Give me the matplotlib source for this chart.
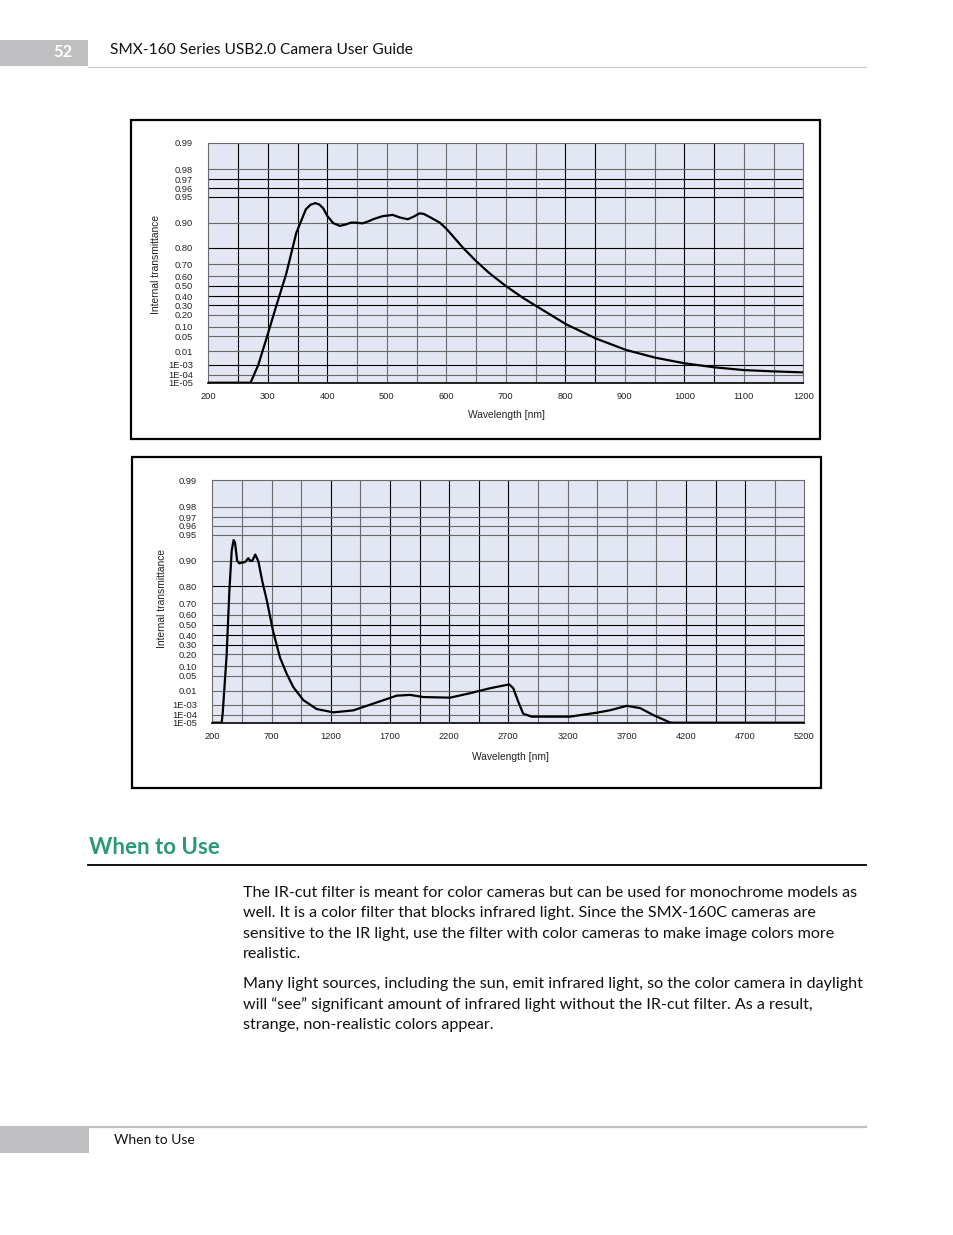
import numpy as np
import matplotlib
matplotlib.use("Agg")
import matplotlib.pyplot as plt
from matplotlib.patches import Rectangle
from matplotlib.lines import Line2D

W, H = 954, 1235

# transmittance curve, visible range (nm, internal transmittance)
vis_wl = [200, 250, 271, 284, 297, 314, 331, 348, 364, 372, 380, 387, 393, 400, 410,
          421, 430, 440, 448, 459, 468, 478, 493, 510, 522, 535, 544, 555, 562, 572,
          589, 600, 614, 628, 650, 672, 700, 728, 752, 801, 851, 902, 951,
          1000, 1051, 1100, 1150, 1200]
vis_t = [1e-5, 1e-5, 1e-5, 1e-3, 0.04, 0.29, 0.62, 0.86, 0.926, 0.935, 0.938, 0.935, 0.928,
         0.913, 0.898, 0.887, 0.892, 0.900, 0.900, 0.897, 0.902, 0.907, 0.9126, 0.915, 0.910,
         0.9066, 0.911, 0.918, 0.917, 0.911, 0.900, 0.876, 0.838, 0.80, 0.72, 0.627, 0.50,
         0.384, 0.29, 0.122, 0.044, 0.0135, 0.0058, 0.0021, 0.00078, 0.00053,
         0.00041, 0.00032]

# transmittance curve, wide range
ir_wl = [200, 279, 288, 321, 344, 364, 380, 392, 410, 428, 450, 476, 504, 520, 538, 550,
         563, 575, 589, 622, 659, 715, 772, 828, 884, 969, 1082, 1222, 1391, 1589, 1757,
         1870, 1983, 2208, 2377, 2546, 2708, 2742, 2784, 2826, 2897, 3221, 3447, 3559,
         3700, 3812, 3925, 4066, 4100, 5200]
ir_t = [1e-5, 1e-5, 2.5e-4, 0.19, 0.77, 0.92, 0.94, 0.935, 0.90, 0.89, 0.893, 0.895, 0.905,
        0.90, 0.90, 0.906, 0.912, 0.906, 0.898, 0.82, 0.72, 0.43, 0.17, 0.06, 0.02, 0.004,
        0.00061, 0.00031, 0.00049, 0.0025, 0.0069, 0.0074, 0.006, 0.0056, 0.0085, 0.017,
        0.027, 0.017, 0.003, 0.00019, 7.8e-5, 7.8e-5, 2.8e-4, 5e-4, 9e-4, 7e-4, 9.6e-5,
        1.2e-5, 1e-5, 1e-5]

y_ticks = [1e-5, 1e-4, 1e-3, 0.01, 0.05, 0.10, 0.20, 0.30, 0.40, 0.50, 0.60, 0.70, 0.80,
           0.90, 0.95, 0.96, 0.97, 0.98, 0.99]
y_tick_labels = ["1E-05", "1E-04", "1E-03", "0.01", "0.05", "0.10", "0.20", "0.30", "0.40",
                 "0.50", "0.60", "0.70", "0.80", "0.90", "0.95", "0.96", "0.97", "0.98", "0.99"]
# where each tick sits on the chart's probability-like axis (fraction of height)
y_tick_frac = [0.0, 0.033, 0.074, 0.131, 0.194, 0.233, 0.283, 0.322, 0.361, 0.403, 0.444,
               0.493, 0.5625, 0.667, 0.774, 0.811, 0.847, 0.890, 1.0]

header_title = "SMX-160 Series USB2.0 Camera User Guide"
page_no = "52"
section = "When to Use"
para1 = ["The IR-cut filter is meant for color cameras but can be used for monochrome models as",
         "well. It is a color filter that blocks infrared light. Since the SMX-160C cameras are",
         "sensitive to the IR light, use the filter with color cameras to make image colors more",
         "realistic."]
para2 = ["Many light sources, including the sun, emit infrared light, so the color camera in daylight",
         "will \u201csee\u201d significant amount of infrared light without the IR-cut filter. As a result,",
         "strange, non-realistic colors appear."]

BODY_FONT = "Lato"
CHART_FONT = "Liberation Sans"
GREEN = "#2a9a72"
PAPER_GREY = "#bfbec0"


def fx(x):
    return x / W


def fy(y):
    return 1 - y / H


def fwd(v):
    return np.interp(v, y_ticks, y_tick_frac)


def inv(p):
    return np.interp(p, y_tick_frac, y_ticks)


def make_chart(rect, wl, t, xlim, xmajor, xgrid, dark_x, dark_y, ylab_xy, xlab_xy):
    left, top, right, bottom = rect
    ax = fig.add_axes([fx(left), fy(bottom), (right - left) / W, (bottom - top) / H])
    ax.set_facecolor("#e2e7f3")
    ax.set_yscale("function", functions=(fwd, inv))
    ax.set_xlim(*xlim)
    ax.set_ylim(1e-5, 0.99)
    ax.set_yticks(y_ticks)
    ax.set_yticklabels(y_tick_labels)
    ax.set_xticks(xmajor)
    ax.set_xticklabels([str(v) for v in xmajor])
    ax.tick_params(length=0, labelsize=6.7, labelcolor="#222222")
    ax.tick_params(axis="y", pad=11)
    ax.tick_params(axis="x", pad=7)
    for lab in ax.get_xticklabels() + ax.get_yticklabels():
        lab.set_family(CHART_FONT)
    for v in xgrid:
        if xlim[0] < v < xlim[1]:
            c = "#000000" if v in dark_x else "#6a6a6a"
            ax.axvline(v, color=c, lw=0.8, zorder=1)
    for v in y_ticks[1:-1]:
        c = "#000000" if v in dark_y else "#6a6a6a"
        ax.axhline(v, color=c, lw=0.8, zorder=1)
    for s in ("left", "right", "top"):
        ax.spines[s].set_color("#6a6a6a")
        ax.spines[s].set_linewidth(0.8)
    ax.spines["bottom"].set_color("#000000")
    ax.spines["bottom"].set_linewidth(1.2)
    ax.plot(wl, t, color="#000000", lw=1.6, zorder=3, solid_capstyle="butt")
    ax.set_ylabel("Internal transmittance", family=CHART_FONT, fontsize=7.4, color="#222222")
    ax.set_xlabel("Wavelength [nm]", family=CHART_FONT, fontsize=7.4, color="#222222")
    ax.yaxis.set_label_coords((ylab_xy[0] - left) / (right - left),
                              (bottom - ylab_xy[1]) / (bottom - top))
    ax.xaxis.set_label_coords((xlab_xy[0] - left) / (right - left),
                              (bottom - xlab_xy[1]) / (bottom - top))
    return ax


fig = plt.figure(figsize=(W / 100, H / 100), dpi=100)

# page header
fig.patches.append(Rectangle((fx(0), fy(66)), fx(88), 26 / H, transform=fig.transFigure,
                             color=PAPER_GREY, lw=0))
fig.add_artist(Line2D([fx(88), fx(866)], [fy(66.5), fy(66.5)], color="#c8c8c8", lw=0.8))
fig.text(fx(63), fy(52), page_no, family=BODY_FONT, weight="bold", color="white",
         fontsize=12, ha="center", va="center")
fig.text(fx(110), fy(50), header_title, family=BODY_FONT, fontsize=11.2, color="#111111",
         ha="left", va="center")

# chart frames
fig.patches.append(Rectangle((fx(131), fy(439.5)), 689 / W, 319.5 / H, transform=fig.transFigure,
                             fill=False, ec="black", lw=1.6))
fig.patches.append(Rectangle((fx(132), fy(787.5)), 689.5 / W, 330.5 / H, transform=fig.transFigure,
                             fill=False, ec="black", lw=1.6))

make_chart((208.3, 142.7, 803.3, 382.7), vis_wl, vis_t, (200, 1200),
           list(range(200, 1201, 100)), list(range(250, 1200, 50)),
           [250, 300, 350, 400, 800, 850, 1000, 1050],
           [0.97, 0.96, 0.95, 0.80, 0.50, 0.40, 0.30, 1e-3],
           (161, 265), (506, 410))

make_chart((212.3, 480.0, 804.3, 722.7), ir_wl, ir_t, (200, 5200),
           list(range(200, 5201, 500)), list(range(450, 5200, 250)),
           [1200, 1700, 1950, 2200, 2450, 2700, 4200, 4450, 4700],
           [0.80, 0.50, 0.40, 0.30],
           (167, 598), (510, 752))

# section heading
fig.text(fx(89), fy(847), section, family=BODY_FONT, weight="bold", color=GREEN,
         fontsize=16, ha="left", va="center")
fig.add_artist(Line2D([fx(88), fx(866)], [fy(864.5), fy(864.5)], color="black", lw=1.3))

y = 893
for line in para1:
    fig.text(fx(243), fy(y), line, family=BODY_FONT, fontsize=11.6, color="#111111",
             ha="left", va="center")
    y += 20.3
y = 984
for line in para2:
    fig.text(fx(243), fy(y), line, family=BODY_FONT, fontsize=11.6, color="#111111",
             ha="left", va="center")
    y += 20.3

# page footer
fig.patches.append(Rectangle((fx(0), fy(1153)), fx(89), 27 / H, transform=fig.transFigure,
                             color=PAPER_GREY, lw=0))
fig.add_artist(Line2D([fx(89), fx(866)], [fy(1127), fy(1127)], color=PAPER_GREY, lw=1.6))
fig.text(fx(114), fy(1140), section, family=BODY_FONT, fontsize=10, color="#111111",
         ha="left", va="center")

fig.savefig("out.png", dpi=100)
